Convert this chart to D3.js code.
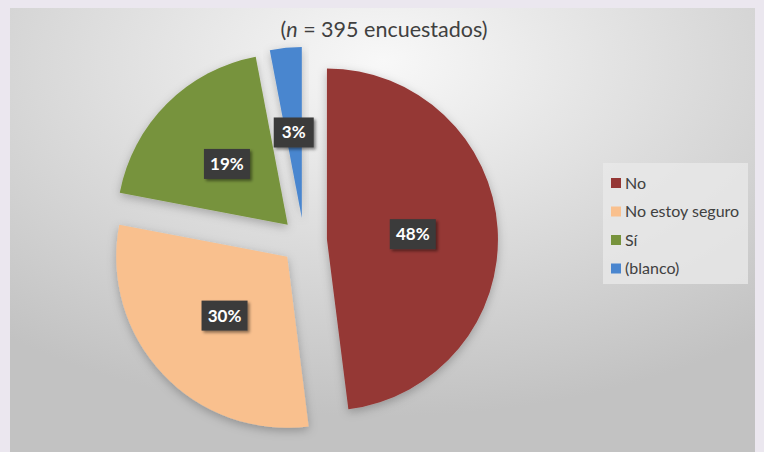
<!DOCTYPE html>
<html>
<head>
<meta charset="utf-8">
<script src="https://cdn.jsdelivr.net/npm/d3@7"></script>
<style>
  body { margin: 0; background: #ebe7ef; }
  text { font-family: Lato, "Open Sans", sans-serif; }
</style>
</head>
<body>
<div id="chart-area"></div>
<script>
// data
const categories = ["No", "No estoy seguro", "Sí", "(blanco)"];
const values = [48, 30, 19, 3];
const colors = ["#953735", "#f9c08e", "#77933c", "#4a86cf"];
const title = "395 encuestados)";

const WIDTH = 764;
const HEIGHT = 452;
const CENTER = { X: 304, Y: 241 };
const RADIUS = 171;
const EXPLODE = 23;
const LABEL_R = 86;

const svg = d3.select("#chart-area").append("svg")
  .attr("width", WIDTH)
  .attr("height", HEIGHT);

const defs = svg.append("defs");

// background gradient
const grad = defs.append("radialGradient")
  .attr("id", "bg")
  .attr("cx", "50%").attr("cy", "12%")
  .attr("r", "80%");
grad.append("stop").attr("offset", "0%").attr("stop-color", "#f8f8f8");
grad.append("stop").attr("offset", "55%").attr("stop-color", "#dadada");
grad.append("stop").attr("offset", "100%").attr("stop-color", "#c2c2c2");

// soft shadow for slices
const sh = defs.append("filter").attr("id", "shadow")
  .attr("x", "-20%").attr("y", "-20%").attr("width", "140%").attr("height", "140%");
sh.append("feDropShadow")
  .attr("dx", 0).attr("dy", 3).attr("stdDeviation", 5)
  .attr("flood-color", "#000").attr("flood-opacity", 0.25);

const lsh = defs.append("filter").attr("id", "lshadow")
  .attr("x", "-30%").attr("y", "-30%").attr("width", "160%").attr("height", "160%");
lsh.append("feDropShadow")
  .attr("dx", 2).attr("dy", 2).attr("stdDeviation", 1.5)
  .attr("flood-color", "#000").attr("flood-opacity", 0.45);

// chart area
svg.append("rect")
  .attr("x", 10).attr("y", 8)
  .attr("width", 745).attr("height", HEIGHT - 8)
  .attr("fill", "url(#bg)");

// title
const t = svg.append("text")
  .attr("x", 384)
  .attr("y", 37)
  .attr("text-anchor", "middle")
  .attr("font-size", "21.5px")
  .attr("fill", "#404040");
t.append("tspan").text("(");
t.append("tspan").attr("font-style", "italic").text("n");
t.append("tspan").text(" = " + title);

// pie
const pie = d3.pie().sort(null).value(d => d);
const arcs = pie(values);
const arc = d3.arc().innerRadius(0).outerRadius(RADIUS);

const g = svg.append("g")
  .attr("transform", `translate(${CENTER.X}, ${CENTER.Y})`);

const offset = (d, r) => {
  const a = (d.startAngle + d.endAngle) / 2;
  return [Math.sin(a) * r, -Math.cos(a) * r];
};

g.selectAll("path.slice")
  .data(arcs)
  .enter()
  .append("path")
  .attr("class", "slice")
  .attr("d", arc)
  .attr("transform", d => `translate(${offset(d, EXPLODE)})`)
  .attr("fill", (d, i) => colors[i])
  .attr("filter", "url(#shadow)");

// data labels
const lab = g.selectAll("g.label")
  .data(arcs)
  .enter()
  .append("g")
  .attr("class", "label")
  .attr("transform", d => `translate(${offset(d, EXPLODE + LABEL_R)})`);

lab.append("rect")
  .attr("x", d => d.data < 10 ? -20 : -23)
  .attr("y", -15)
  .attr("width", d => d.data < 10 ? 40 : 46)
  .attr("height", 30)
  .attr("fill", "#3a3a3a")
  .attr("filter", "url(#lshadow)");

lab.append("text")
  .attr("text-anchor", "middle")
  .attr("dy", "0.35em")
  .attr("font-size", "17px")
  .attr("font-weight", "700")
  .attr("fill", "#fff")
  .text(d => d.data + "%");

// legend
const legend = svg.append("g")
  .attr("transform", "translate(603, 163)");

legend.append("rect")
  .attr("width", 145)
  .attr("height", 121)
  .attr("fill", "#e9e9e9")
  .attr("opacity", 0.8);

const item = legend.selectAll("g.item")
  .data(categories)
  .enter()
  .append("g")
  .attr("class", "item")
  .attr("transform", (d, i) => `translate(8, ${20 + i * 28.5})`);

item.append("rect")
  .attr("x", 0).attr("y", -5)
  .attr("width", 10).attr("height", 10)
  .attr("fill", (d, i) => colors[i]);

item.append("text")
  .attr("x", 14)
  .attr("dy", "0.35em")
  .attr("font-size", "16px")
  .attr("fill", "#404040")
  .text(d => d);
</script>
</body>
</html>
